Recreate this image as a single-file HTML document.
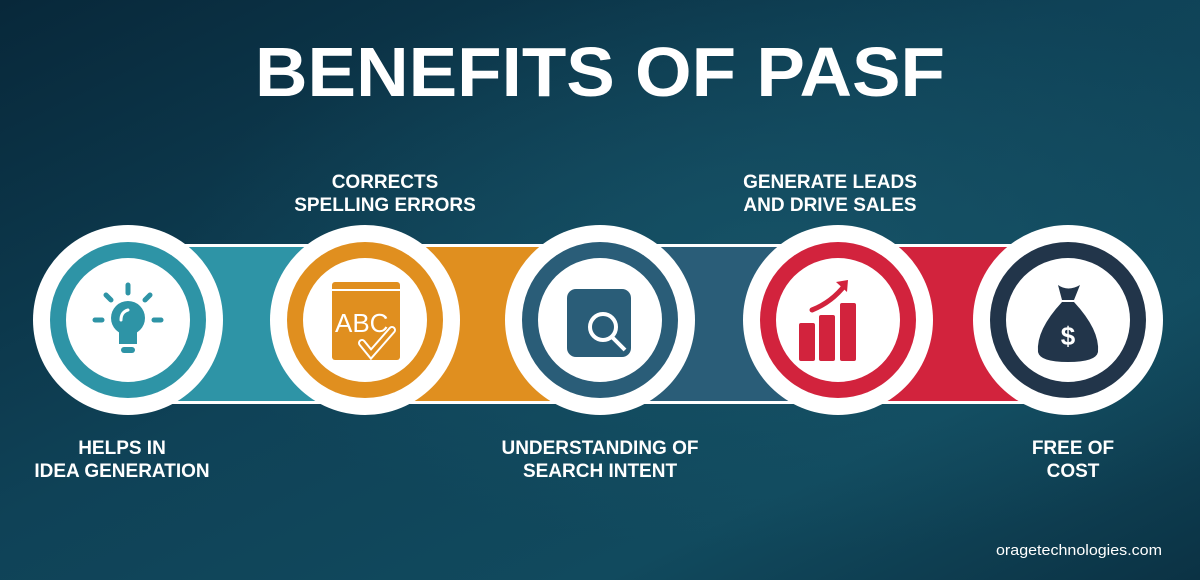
<!DOCTYPE html>
<html><head><meta charset="utf-8"><style>
html,body{margin:0;padding:0;width:1200px;height:580px;overflow:hidden;background:#0c3446}
svg{display:block}
text{font-family:"Liberation Sans",sans-serif;font-weight:bold;fill:#fff}
</style></head><body>
<svg width="1200" height="580" viewBox="0 0 1200 580">
<defs>
<linearGradient id="bg" x1="0" y1="0" x2="1" y2="1">
<stop offset="0" stop-color="#08283a"/><stop offset="0.45" stop-color="#0f4257"/><stop offset="0.75" stop-color="#114a5e"/><stop offset="1" stop-color="#0b3244"/>
</linearGradient>
<radialGradient id="glow" cx="0.65" cy="0.45" r="0.5"><stop offset="0" stop-color="#1a5a6e" stop-opacity="0.6"/><stop offset="1" stop-color="#1a5a6e" stop-opacity="0"/></radialGradient>
</defs>
<rect width="1200" height="580" fill="url(#bg)"/>
<rect width="1200" height="580" fill="url(#glow)"/>
<text x="600" y="96" text-anchor="middle" font-size="70" textLength="690" lengthAdjust="spacingAndGlyphs">BENEFITS OF PASF</text>

<g>
<rect x="128" y="244" width="945" height="160" fill="#fff"/>
<rect x="128" y="247" width="240" height="154" fill="#2e94a6"/>
<rect x="365" y="247" width="237" height="154" fill="#e08f1f"/>
<rect x="600" y="247" width="240" height="154" fill="#2a5d78"/>
<rect x="838" y="247" width="232" height="154" fill="#d2233d"/>
</g>

<g>
<circle cx="128" cy="320" r="95" fill="#fff"/><circle cx="128" cy="320" r="78" fill="#2e94a6"/><circle cx="128" cy="320" r="62" fill="#fff"/>
<g fill="#2e94a6" stroke="#2e94a6" stroke-linecap="round" stroke-width="5">
<circle cx="128" cy="318" r="17" stroke="none"/><rect x="119" y="328" width="18" height="16" stroke="none"/><rect x="121" y="347" width="14" height="6" rx="3" stroke="none"/>
<line x1="128" y1="285" x2="128" y2="293"/><line x1="106" y1="295" x2="111" y2="300"/><line x1="150" y1="295" x2="145" y2="300"/><line x1="95" y1="320" x2="102" y2="320"/><line x1="154" y1="320" x2="161" y2="320"/>
<path d="M121 320 Q121 312 128 310" fill="none" stroke="#fff" stroke-width="3"/>
</g></g>

<g>
<circle cx="365" cy="320" r="95" fill="#fff"/><circle cx="365" cy="320" r="78" fill="#e08f1f"/><circle cx="365" cy="320" r="62" fill="#fff"/>
<rect x="332" y="282" width="68" height="78" rx="3" fill="#e08f1f"/>
<line x1="332" y1="290" x2="400" y2="290" stroke="#fff" stroke-width="2"/>
<text x="335" y="332" font-size="26" style="font-weight:normal" fill="#fff">ABC</text>
<path d="M362 343 L371 354 L392 330" fill="none" stroke="#fff" stroke-width="8" stroke-linecap="round"/>
<path d="M362 343 L371 354 L392 330" fill="none" stroke="#e08f1f" stroke-width="4" stroke-linecap="round"/>
</g>

<g>
<circle cx="600" cy="320" r="95" fill="#fff"/><circle cx="600" cy="320" r="78" fill="#2a5d78"/><circle cx="600" cy="320" r="62" fill="#fff"/>
<rect x="567" y="289" width="64" height="68" rx="9" fill="#2a5d78"/>
<circle cx="603" cy="327" r="13" fill="none" stroke="#fff" stroke-width="4"/><line x1="612" y1="337" x2="625" y2="350" stroke="#fff" stroke-width="4"/>
</g>

<g>
<circle cx="838" cy="320" r="95" fill="#fff"/><circle cx="838" cy="320" r="78" fill="#d2233d"/><circle cx="838" cy="320" r="62" fill="#fff"/>
<g fill="#d2233d">
<rect x="799" y="323" width="16" height="38" rx="2"/><rect x="819" y="315" width="16" height="46" rx="2"/><rect x="840" y="303" width="16" height="58" rx="2"/>
<path d="M812 310 Q832 302 845 285" fill="none" stroke="#d2233d" stroke-width="5" stroke-linecap="round"/>
<path d="M836 282 L848 280 L847 292 Z"/>
</g></g>

<g>
<circle cx="1068" cy="320" r="95" fill="#fff"/><circle cx="1068" cy="320" r="78" fill="#22354a"/><circle cx="1068" cy="320" r="62" fill="#fff"/>
<g>
<path d="M1058 285 Q1068 292 1080 285 L1074 300 L1062 300 Z" fill="#22354a"/>
<path d="M1062 302 L1074 302 Q1100 330 1098 352 Q1096 362 1068 362 Q1040 362 1038 352 Q1036 330 1062 302 Z" fill="#22354a"/>
<text x="1068" y="345" text-anchor="middle" font-size="26">$</text>
</g></g>

<g font-size="19" text-anchor="middle">
<text x="385" y="188"><tspan x="385">CORRECTS</tspan><tspan x="385" dy="23">SPELLING ERRORS</tspan></text>
<text x="830" y="188"><tspan x="830">GENERATE LEADS</tspan><tspan x="830" dy="23">AND DRIVE SALES</tspan></text>
<text x="122" y="454"><tspan x="122">HELPS IN</tspan><tspan x="122" dy="23">IDEA GENERATION</tspan></text>
<text x="600" y="454"><tspan x="600">UNDERSTANDING OF</tspan><tspan x="600" dy="23">SEARCH INTENT</tspan></text>
<text x="1073" y="454"><tspan x="1073">FREE OF</tspan><tspan x="1073" dy="23">COST</tspan></text>
</g>
<text x="1162" y="555" text-anchor="end" font-size="15" style="font-weight:normal" textLength="166" lengthAdjust="spacingAndGlyphs">oragetechnologies.com</text>
</svg>
</body></html>
